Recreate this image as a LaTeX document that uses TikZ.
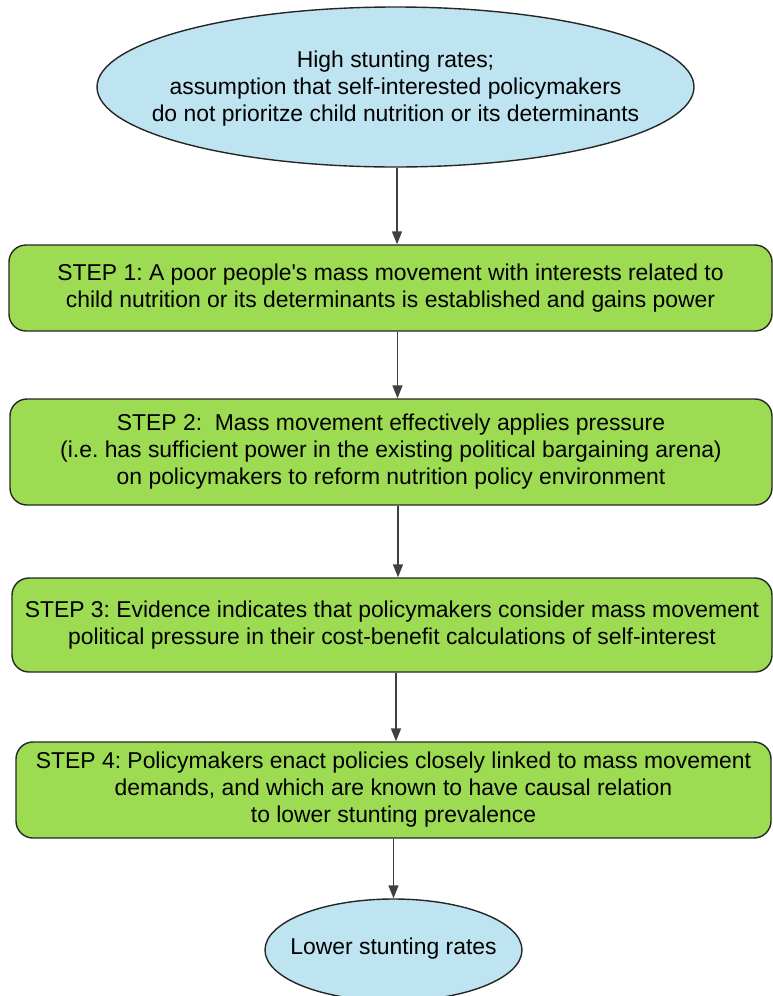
\documentclass[tikz,border=0pt]{standalone}
\usepackage{fontspec}
\setmainfont{Liberation Sans}
\usetikzlibrary{shapes.geometric,arrows.meta}
\definecolor{stepgreen}{RGB}{156,219,82}
\definecolor{endblue}{RGB}{190,228,241}
\definecolor{arrowgray}{RGB}{64,64,64}
\frenchspacing
\tikzset{
  textfont/.style={font=\fontsize{22.9}{27}\selectfont},
  stepbox/.style={draw=black!85, line width=1.4pt, fill=stepgreen, rounded corners=17pt,
    align=center, inner sep=0pt, textfont},
  endpoint/.style={ellipse, draw=black!85, line width=1.4pt, fill=endblue, inner sep=0pt},
  endtext/.style={align=center, inner sep=0pt, textfont},
  flow/.style={draw=arrowgray, line width=1.5pt, -{Triangle[length=13pt,width=10pt]}}
}
\begin{document}
\begin{tikzpicture}[x=1pt,y=-1pt]
\useasboundingbox (0,0) rectangle (773,996);
% terminal ellipses: shape first, text on top
\node[endpoint, minimum width=597pt, minimum height=160pt] (start) at (395.5,87) {};
\node[endtext] (starttext) at (395.5,88.5)
  {High stunting rates;\\assumption that self-interested policymakers\\do not prioritze child nutrition or its determinants};
\node[stepbox, minimum width=763pt, minimum height=86pt] (s1) at (390.5,288)
  {STEP 1: A poor people\textquotesingle s mass movement with interests related to\\child nutrition or its determinants is established and gains power};
\node[stepbox, minimum width=762pt, minimum height=106pt] (s2) at (391,452)
  {STEP 2:\ \ Mass movement effectively applies pressure\\(i.e. has sufficient power in the existing political bargaining arena)\\on policymakers to reform nutrition policy environment};
\node[stepbox, minimum width=760pt, minimum height=94pt] (s3) at (392,625)
  {STEP 3: Evidence indicates that policymakers consider mass movement\\political pressure in their cost-benefit calculations of self-interest};
\node[stepbox, minimum width=755pt, minimum height=96pt] (s4) at (393.5,790)
  {STEP 4: Policymakers enact policies closely linked to mass movement\\demands, and which are known to have causal relation\\to lower stunting prevalence};
\node[endpoint, minimum width=257pt, minimum height=102pt] (finish) at (393.5,950) {};
\node[endtext] (finishtext) at (393.5,949) {Lower stunting rates};
\draw[flow] ([xshift=1.5pt]start.south) -- ([xshift=1.5pt]start.south |- s1.north);
\draw[flow] ([xshift=7pt]s1.south) -- ([xshift=7pt]s1.south |- s2.north);
\draw[flow] ([xshift=7pt]s2.south) -- ([xshift=7pt]s2.south |- s3.north);
\draw[flow] ([xshift=4pt]s3.south) -- ([xshift=4pt]s3.south |- s4.north);
\draw[flow] (s4.south) -- (s4.south |- finish.north);
\end{tikzpicture}
\end{document}
